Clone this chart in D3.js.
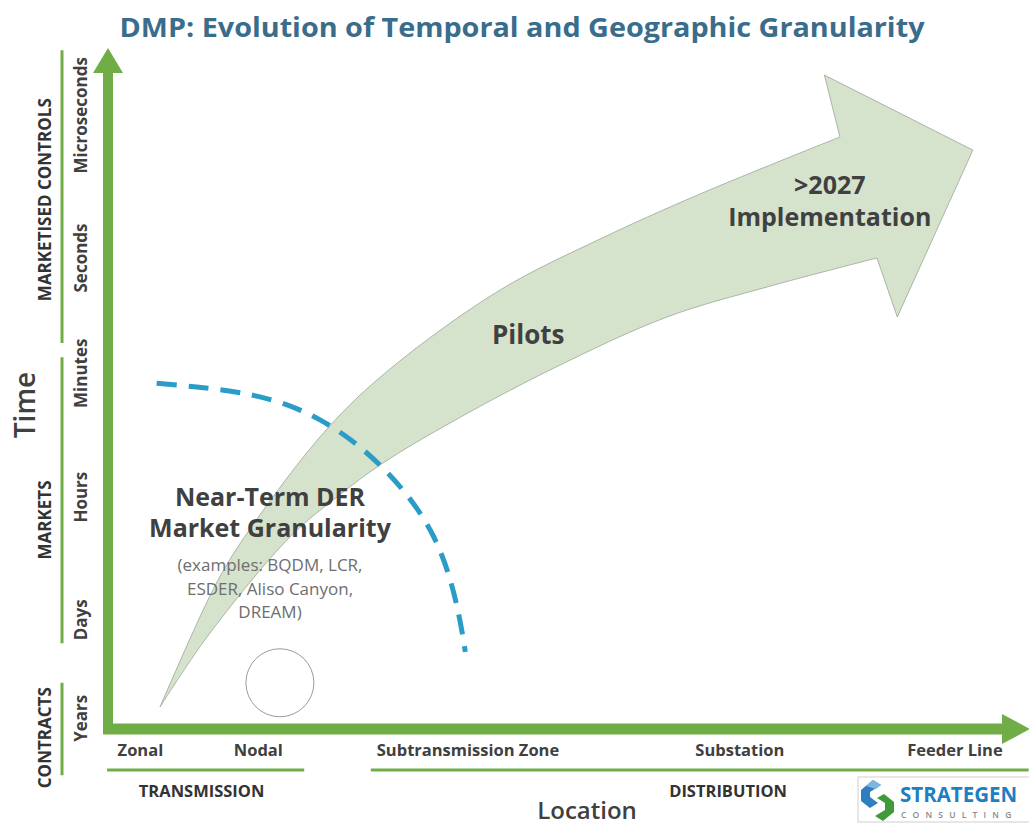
<!DOCTYPE html>
<html>
<head>
<meta charset="utf-8">
<style>
  body { margin: 0; background: #fff; }
  text { font-family: "Open Sans", sans-serif; }
</style>
</head>
<body>
<svg width="1029" height="825"></svg>
<script src="https://cdn.jsdelivr.net/npm/d3@7"></script>
<script>

// time axis (vertical) - levels are in % of plot height
var timeLabels = ["Years", "Days", "Hours", "Minutes", "Seconds", "Microseconds"];
var timeLevels = [1.6, 16.3, 34.6, 53.1, 70.3, 91.6];
var timeGroups = ["CONTRACTS", "MARKETS", "MARKETISED CONTROLS"];
var timeGroupSpans = [[-6.9, 6.9], [12.8, 55.5], [57.6, 101.3]];
var timeGroupLabelAt = [-1.3, 31.2, 79.0];

// location axis (horizontal) - levels are in % of plot width
var locationLabels = ["Zonal", "Nodal", "Subtransmission Zone", "Substation", "Feeder Line"];
var locationLevels = [3.6, 16.7, 40.0, 70.2, 94.1];
var locationGroups = ["TRANSMISSION", "DISTRIBUTION"];
var locationGroupSpans = [[-0.1, 21.8], [29.2, 102.3]];
var locationGroupLabelAt = [10.4, 68.9];

// the big evolution arrow (location %, time %)
var arrowUpper = [[5.78, 3.28], [12.11, 21.94], [15.78, 29.85], [24.33, 44.78], [31.33, 53.73], [43.56, 65.52], [54.67, 73.13], [65.78, 79.85], [81.33, 88.36]];
var arrowHead = [[79.6, 97.6], [96.1, 86.4], [87.7, 61.5]];
var arrowLower = [[85.44, 70.3], [73.22, 65.97], [62.11, 61.49], [49.11, 53.58], [38.0, 45.67], [30.56, 39.7], [25.44, 34.63], [20.22, 28.66], [11.0, 13.73], [5.78, 3.28]];

// near-term DER boundary (dashed) and the nodal circle
var nearTermArc = [[5.4, 51.6], [15.8, 49.9], [23.6, 46.1], [30.2, 39.4], [35.8, 29.7], [38.6, 19.3], [39.7, 11.5]];
var nodalCircle = [19.1, 6.9];

var green = "#70ad47";
var textDark = "#404040";

var svg = d3.select("svg");

var x = d3.scaleLinear().domain([0, 100]).range([108, 1008]);
var y = d3.scaleLinear().domain([0, 100]).range([729, 59]);

// title
svg.append("text")
  .attr("x", 522).attr("y", 37)
  .attr("text-anchor", "middle")
  .attr("font-size", 26).attr("font-weight", 700)
  .attr("fill", "#3a6d8c")
  .attr("textLength", 805)
  .attr("lengthAdjust", "spacingAndGlyphs")
  .text("DMP: Evolution of Temporal and Geographic Granularity");

// big arrow
var line = d3.line()
  .x(function(d) { return x(d[0]); })
  .y(function(d) { return y(d[1]); })
  .curve(d3.curveCatmullRom.alpha(0.5));

var headD = arrowHead.map(function(d) { return "L" + x(d[0]) + "," + y(d[1]); }).join("");
var arrowD = line(arrowUpper) + headD + line(arrowLower).replace(/^M/, "L") + "Z";

svg.append("path")
  .attr("d", arrowD)
  .attr("fill", "#d6e3cc")
  .attr("stroke", "#9aa596")
  .attr("stroke-width", 0.8);

// dashed near-term line
svg.append("path")
  .attr("d", d3.line()
    .x(function(d) { return x(d[0]); })
    .y(function(d) { return y(d[1]); })
    .curve(d3.curveNatural)(nearTermArc))
  .attr("fill", "none")
  .attr("stroke", "#2a9cc8")
  .attr("stroke-width", 5)
  .attr("stroke-dasharray", "20,12");

svg.append("circle")
  .attr("cx", x(nodalCircle[0])).attr("cy", y(nodalCircle[1]))
  .attr("r", 34)
  .attr("fill", "none")
  .attr("stroke", "#9a9a9a")
  .attr("stroke-width", 1);

// axes
svg.append("line")
  .attr("x1", x(0)).attr("x2", x(0))
  .attr("y1", y(0) + 5).attr("y2", 70)
  .attr("stroke", green).attr("stroke-width", 10);
svg.append("path")
  .attr("d", "M" + (x(0) - 15) + ",73L" + x(0) + ",48L" + (x(0) + 15) + ",73Z")
  .attr("fill", green);

svg.append("line")
  .attr("x1", x(0) - 5).attr("x2", 1004)
  .attr("y1", y(0)).attr("y2", y(0))
  .attr("stroke", green).attr("stroke-width", 11);
svg.append("path")
  .attr("d", "M1002," + (y(0) - 15) + "L1030," + y(0) + "L1002," + (y(0) + 15) + "Z")
  .attr("fill", green);

// time ticks
svg.selectAll(".ttick")
  .data(timeLabels)
  .enter().append("text")
  .attr("class", "ttick")
  .attr("transform", function(d, i) { return "translate(81," + y(timeLevels[i]) + ") rotate(-90)"; })
  .attr("text-anchor", "middle")
  .attr("dy", "0.35em")
  .attr("font-size", 17).attr("font-weight", 700)
  .attr("fill", textDark)
  .text(function(d) { return d; });

svg.selectAll(".tbracket")
  .data(timeGroupSpans)
  .enter().append("line")
  .attr("x1", 62).attr("x2", 62)
  .attr("y1", function(d) { return y(d[0]); })
  .attr("y2", function(d) { return y(d[1]); })
  .attr("stroke", green).attr("stroke-width", 3);

svg.selectAll(".tgroup")
  .data(timeGroups)
  .enter().append("text")
  .attr("transform", function(d, i) { return "translate(45," + y(timeGroupLabelAt[i]) + ") rotate(-90)"; })
  .attr("text-anchor", "middle")
  .attr("dy", "0.35em")
  .attr("font-size", 17).attr("font-weight", 700)
  .attr("fill", "#333")
  .text(function(d) { return d; });

svg.append("text")
  .attr("transform", "translate(25,405) rotate(-90)")
  .attr("text-anchor", "middle")
  .attr("dy", "0.35em")
  .attr("font-size", 28).attr("font-weight", 600)
  .attr("fill", textDark)
  .text("Time");

// location ticks
svg.selectAll(".xtick")
  .data(locationLabels)
  .enter().append("text")
  .attr("x", function(d, i) { return x(locationLevels[i]); })
  .attr("y", 756)
  .attr("text-anchor", "middle")
  .attr("font-size", 16.5).attr("font-weight", 700)
  .attr("fill", textDark)
  .text(function(d) { return d; });

svg.selectAll(".xbracket")
  .data(locationGroupSpans)
  .enter().append("line")
  .attr("x1", function(d) { return x(d[0]); })
  .attr("x2", function(d) { return x(d[1]); })
  .attr("y1", 770).attr("y2", 770)
  .attr("stroke", green).attr("stroke-width", 3);

svg.selectAll(".xgroup")
  .data(locationGroups)
  .enter().append("text")
  .attr("x", function(d, i) { return x(locationGroupLabelAt[i]); })
  .attr("y", 797)
  .attr("text-anchor", "middle")
  .attr("font-size", 16.5).attr("font-weight", 700)
  .attr("fill", "#333")
  .text(function(d) { return d; });

svg.append("text")
  .attr("x", 587).attr("y", 819)
  .attr("text-anchor", "middle")
  .attr("font-size", 24).attr("font-weight", 600)
  .attr("fill", textDark)
  .text("Location");

// annotations
function label(lines, cx, cy, size, weight, color, lh) {
  var t = svg.append("text")
    .attr("text-anchor", "middle")
    .attr("font-size", size).attr("font-weight", weight)
    .attr("fill", color);
  lines.forEach(function(s, i) {
    t.append("tspan").attr("x", cx).attr("y", cy + i * lh).attr("dy", "0.35em").text(s);
  });
}
label(["Pilots"], x(46.7), y(58.8), 26, 700, textDark, 0);
label([">2027", "Implementation"], x(80.2), y(81.2), 25, 700, textDark, 32);
label(["Near-Term DER", "Market Granularity"], x(18.0), y(34.6), 25, 700, textDark, 31);
label(["(examples: BQDM, LCR,", "ESDER, Aliso Canyon,", "DREAM)"], x(18.0), y(24.4), 17, 400, "#6e6e6e", 23.5);

// logo
var logo = svg.append("g");
logo.append("rect")
  .attr("x", 858).attr("y", 777).attr("width", 175).attr("height", 45)
  .attr("fill", "#fff").attr("stroke", "#cfcfcf");
logo.append("path")
  .attr("d", "M873,780L861,790L861,801L870,808L878,803L870,797L870,792L881,785Z")
  .attr("fill", "#2e7fc0");
logo.append("path")
  .attr("d", "M873,780L881,785L876,789L866,786Z")
  .attr("fill", "#7fb6df");
logo.append("path")
  .attr("d", "M884,794L894,802L894,812L883,821L875,816L885,810L885,803L877,798Z")
  .attr("fill", "#3f9a3a");
logo.append("text")
  .attr("x", 900).attr("y", 802)
  .attr("font-size", 20.5).attr("font-weight", 700)
  .attr("fill", "#1f7fc2")
  .text("STRATEGEN");
logo.append("text")
  .attr("x", 901).attr("y", 818)
  .attr("font-size", 8.5).attr("font-weight", 600)
  .attr("letter-spacing", 6.2)
  .attr("fill", "#8a8a8a")
  .text("CONSULTING");

</script>
</body>
</html>
